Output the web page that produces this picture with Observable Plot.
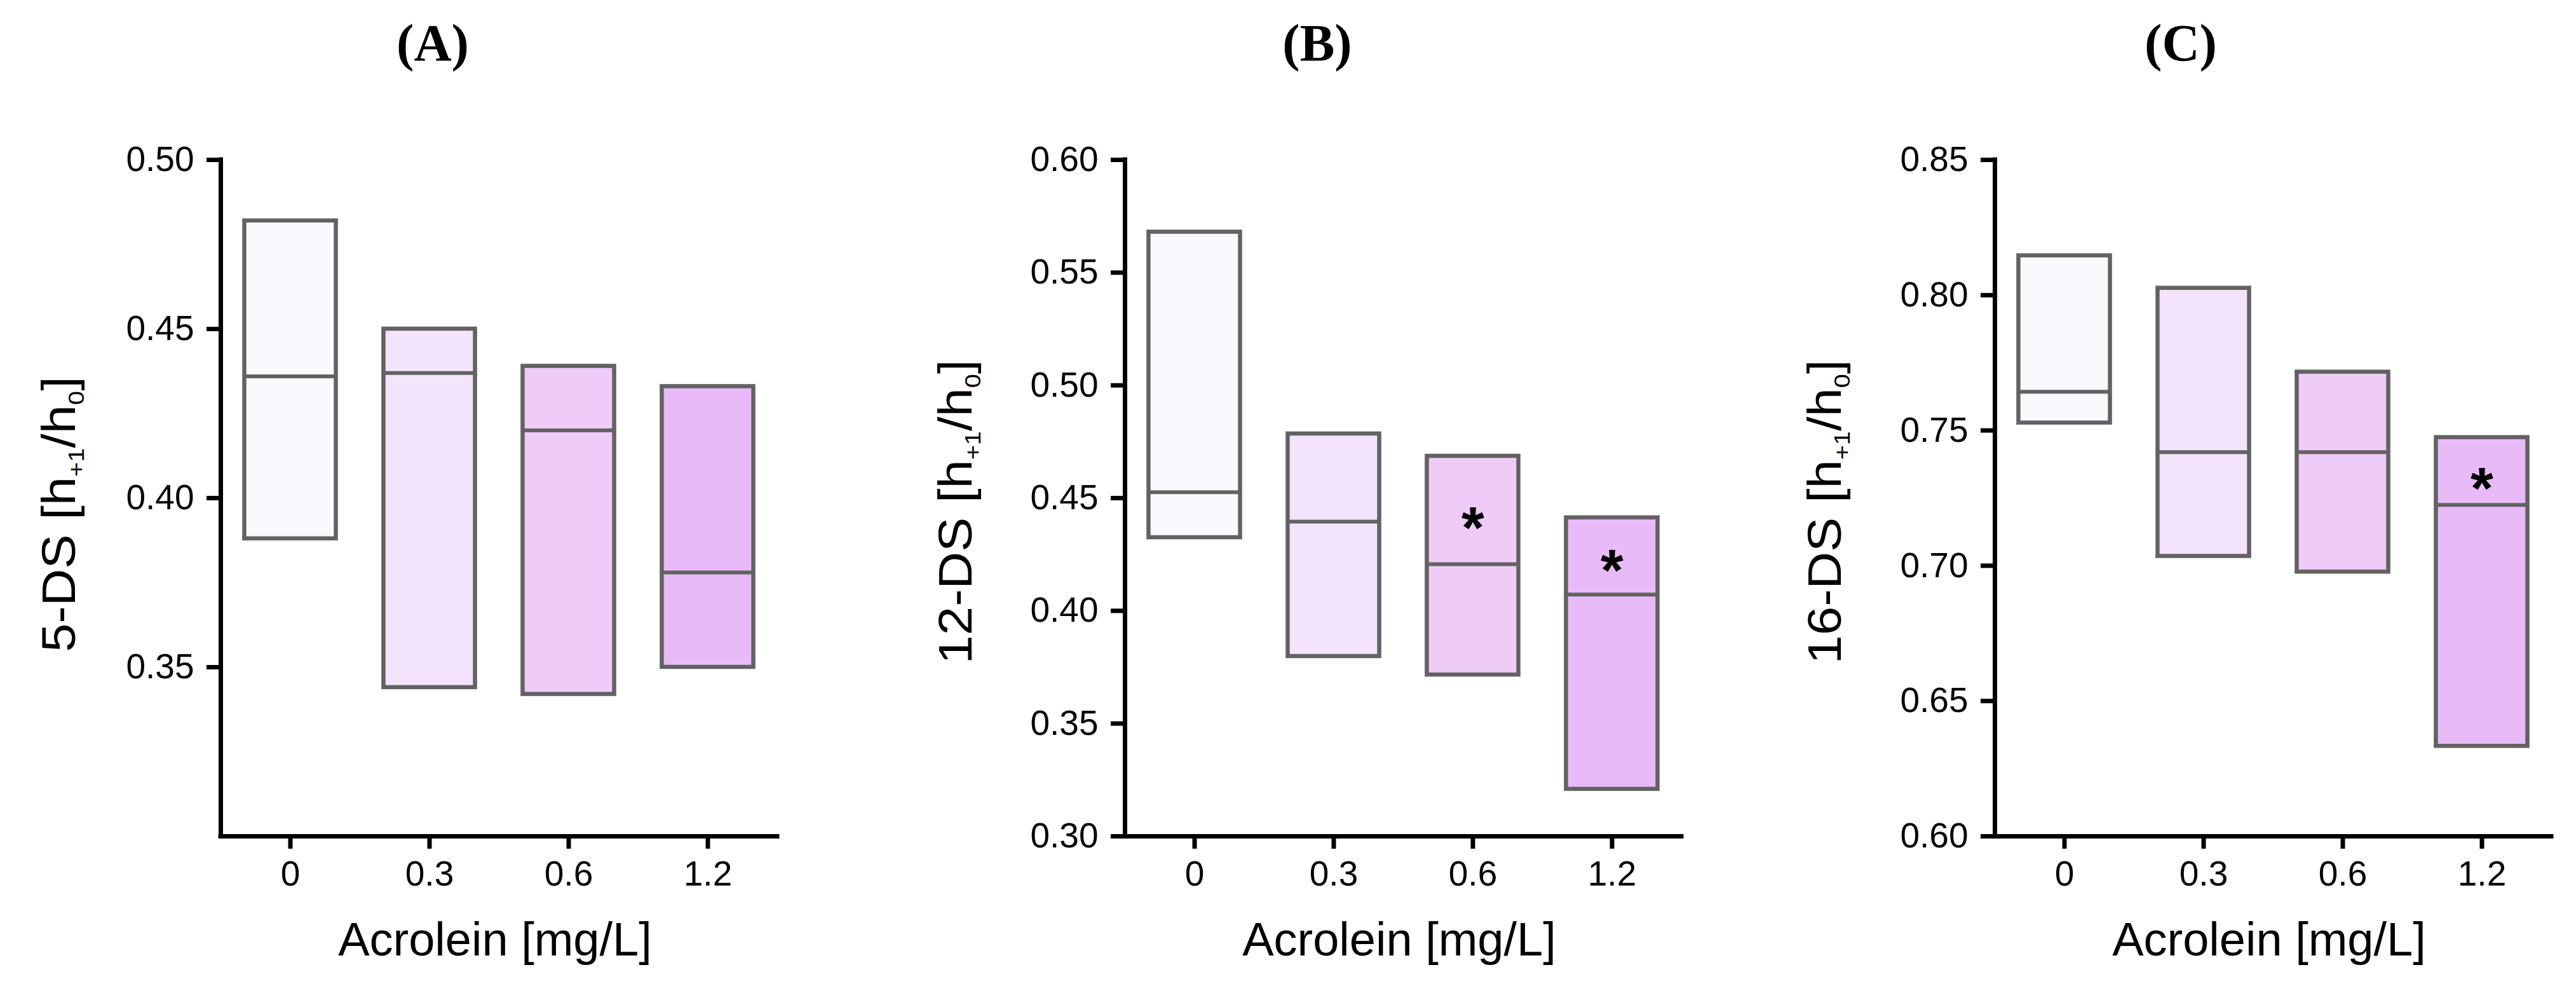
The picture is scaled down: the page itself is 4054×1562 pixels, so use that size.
<!DOCTYPE html>
<html>
<head>
<meta charset="utf-8">
<script src="https://cdn.jsdelivr.net/npm/d3@7"></script>
<script src="https://cdn.jsdelivr.net/npm/@observablehq/plot@0.6"></script>
<style>
  html, body { margin: 0; padding: 0; background: #ffffff; }
  #fig { position: relative; width: 4054px; height: 1562px; background: #ffffff; overflow: hidden; }
  #fig svg { position: absolute; top: 0; }
</style>
</head>
<body>
<div id="fig"></div>
<script>
// ---------- data ----------
const doses = ["0", "0.3", "0.6", "1.2"];
const xTitle = "Acrolein [mg/L]";
const panelLetters = ["A", "B", "C"];
const yPrefixes = ["5-DS", "12-DS", "16-DS"];

// Panel A (5-DS)
const upperA  = [0.482, 0.450, 0.439, 0.433];
const medianA = [0.436, 0.437, 0.420, 0.378];
const lowerA  = [0.388, 0.344, 0.342, 0.350];
const starsA  = [null, null, null, null];
const ticksA  = [0.35, 0.40, 0.45, 0.50];
const domainA = [0.30, 0.50];

// Panel B (12-DS)
const upperB  = [0.568, 0.4785, 0.4686, 0.4413];
const medianB = [0.4526, 0.4396, 0.4207, 0.4072];
const lowerB  = [0.4325, 0.3798, 0.3716, 0.3209];
const starsB  = [null, null, 0.443, 0.424];
const ticksB  = [0.30, 0.35, 0.40, 0.45, 0.50, 0.55, 0.60];
const domainB = [0.30, 0.60];

// Panel C (16-DS)
const upperC  = [0.8146, 0.8026, 0.7716, 0.7474];
const medianC = [0.7643, 0.742, 0.742, 0.7225];
const lowerC  = [0.7528, 0.7035, 0.6977, 0.6333];
const starsC  = [null, null, null, 0.7336];
const ticksC  = [0.60, 0.65, 0.70, 0.75, 0.80, 0.85];
const domainC = [0.60, 0.85];

// ---------- styles / layout ----------
const fills = ["#fafafe", "#f4e4fb", "#efcbf8", "#e8bbf8"];
const boxStroke = "#626262";
const HALF = 0.329;
const FONT = "'Liberation Sans', Arial, Helvetica, sans-serif";
const H = 1562, TOP = 251, BOTTOM = 1315, FRAME_W = 876;

const panels = [
  {upper: upperA, median: medianA, lower: lowerA, stars: starsA, ticks: ticksA, domain: domainA,
   left: 0, width: 1380, axisX: 347, titleX: 681, ylabX: 118, ylabY: 809},
  {upper: upperB, median: medianB, lower: lowerB, stars: starsB, ticks: ticksB, domain: domainB,
   left: 1380, width: 1340, axisX: 1770, titleX: 693, ylabX: 149, ylabY: 805},
  {upper: upperC, median: medianC, lower: lowerC, stars: starsC, ticks: ticksC, domain: domainC,
   left: 2720, width: 1334, axisX: 3139, titleX: 712, ylabX: 177, ylabY: 805}
];

const fig = document.getElementById("fig");

panels.forEach((p, k) => {
  const rows = doses.map((d, i) => ({
    i, dose: d, upper: p.upper[i], median: p.median[i], lower: p.lower[i], star: p.stars[i]
  }));
  const mLeft = p.axisX - p.left;
  const mRight = p.width - mLeft - FRAME_W;

  const svg = Plot.plot({
    width: p.width,
    height: H,
    marginLeft: mLeft,
    marginRight: mRight,
    marginTop: TOP,
    marginBottom: H - BOTTOM,
    x: {type: "linear", domain: [-0.5, 3.5], axis: null},
    y: {domain: p.domain, axis: null},
    color: {type: "identity"},
    style: {fontFamily: FONT, background: "none", overflow: "visible", color: "black"},
    marks: [
      Plot.rect(rows, {
        x1: d => d.i - HALF, x2: d => d.i + HALF, y1: "lower", y2: "upper",
        fill: d => fills[d.i], stroke: boxStroke, strokeWidth: 6.5
      }),
      Plot.ruleY(rows, {
        y: "median", x1: d => d.i - HALF, x2: d => d.i + HALF,
        stroke: boxStroke, strokeWidth: 6
      }),
      Plot.text(rows.filter(d => d.star != null), {
        x: "i", y: "star", text: () => "*", fontSize: 92, fontWeight: "bold",
        fill: "black", dy: 24
      }),
      Plot.axisY({
        ticks: p.ticks, tickFormat: d3.format(".2f"), tickSize: 22, tickPadding: 20,
        fontSize: 55, strokeWidth: 7, label: null
      }),
      Plot.axisX({
        ticks: [0, 1, 2, 3], tickFormat: i => doses[i], tickSize: 20, tickPadding: 18,
        fontSize: 55, strokeWidth: 7, label: null
      }),
      Plot.ruleX([-0.5], {stroke: "black", strokeWidth: 7, strokeLinecap: "square"}),
      Plot.ruleY([p.domain[0]], {stroke: "black", strokeWidth: 7, strokeLinecap: "square"})
    ]
  });

  svg.style.left = p.left + "px";
  const s = d3.select(svg);

  // Panel title
  s.append("text")
    .attr("x", p.titleX).attr("y", 95)
    .attr("text-anchor", "middle")
    .attr("font-family", "'Liberation Serif', 'Times New Roman', serif")
    .attr("font-weight", "bold")
    .attr("font-size", 82)
    .attr("fill", "black")
    .text("(" + panelLetters[k] + ")");

  // X axis title
  s.append("text")
    .attr("x", mLeft + FRAME_W / 2 - 6).attr("y", 1503)
    .attr("text-anchor", "middle")
    .attr("font-family", FONT)
    .attr("font-size", 74)
    .attr("fill", "black")
    .text(xTitle);

  // Y axis title with subscripts
  const yl = s.append("text")
    .attr("transform", `translate(${p.ylabX},${p.ylabY}) rotate(-90) scale(1.1,1)`)
    .attr("text-anchor", "middle")
    .attr("font-family", FONT)
    .attr("font-size", 74)
    .attr("fill", "black");
  yl.append("tspan").text(yPrefixes[k] + " [h");
  yl.append("tspan").attr("font-size", 36).attr("dy", 14).text("+1");
  yl.append("tspan").attr("font-size", 74).attr("dy", -14).text("/h");
  yl.append("tspan").attr("font-size", 36).attr("dy", 14).text("0");
  yl.append("tspan").attr("font-size", 74).attr("dy", -14).text("]");

  fig.appendChild(svg);
});
</script>
</body>
</html>
